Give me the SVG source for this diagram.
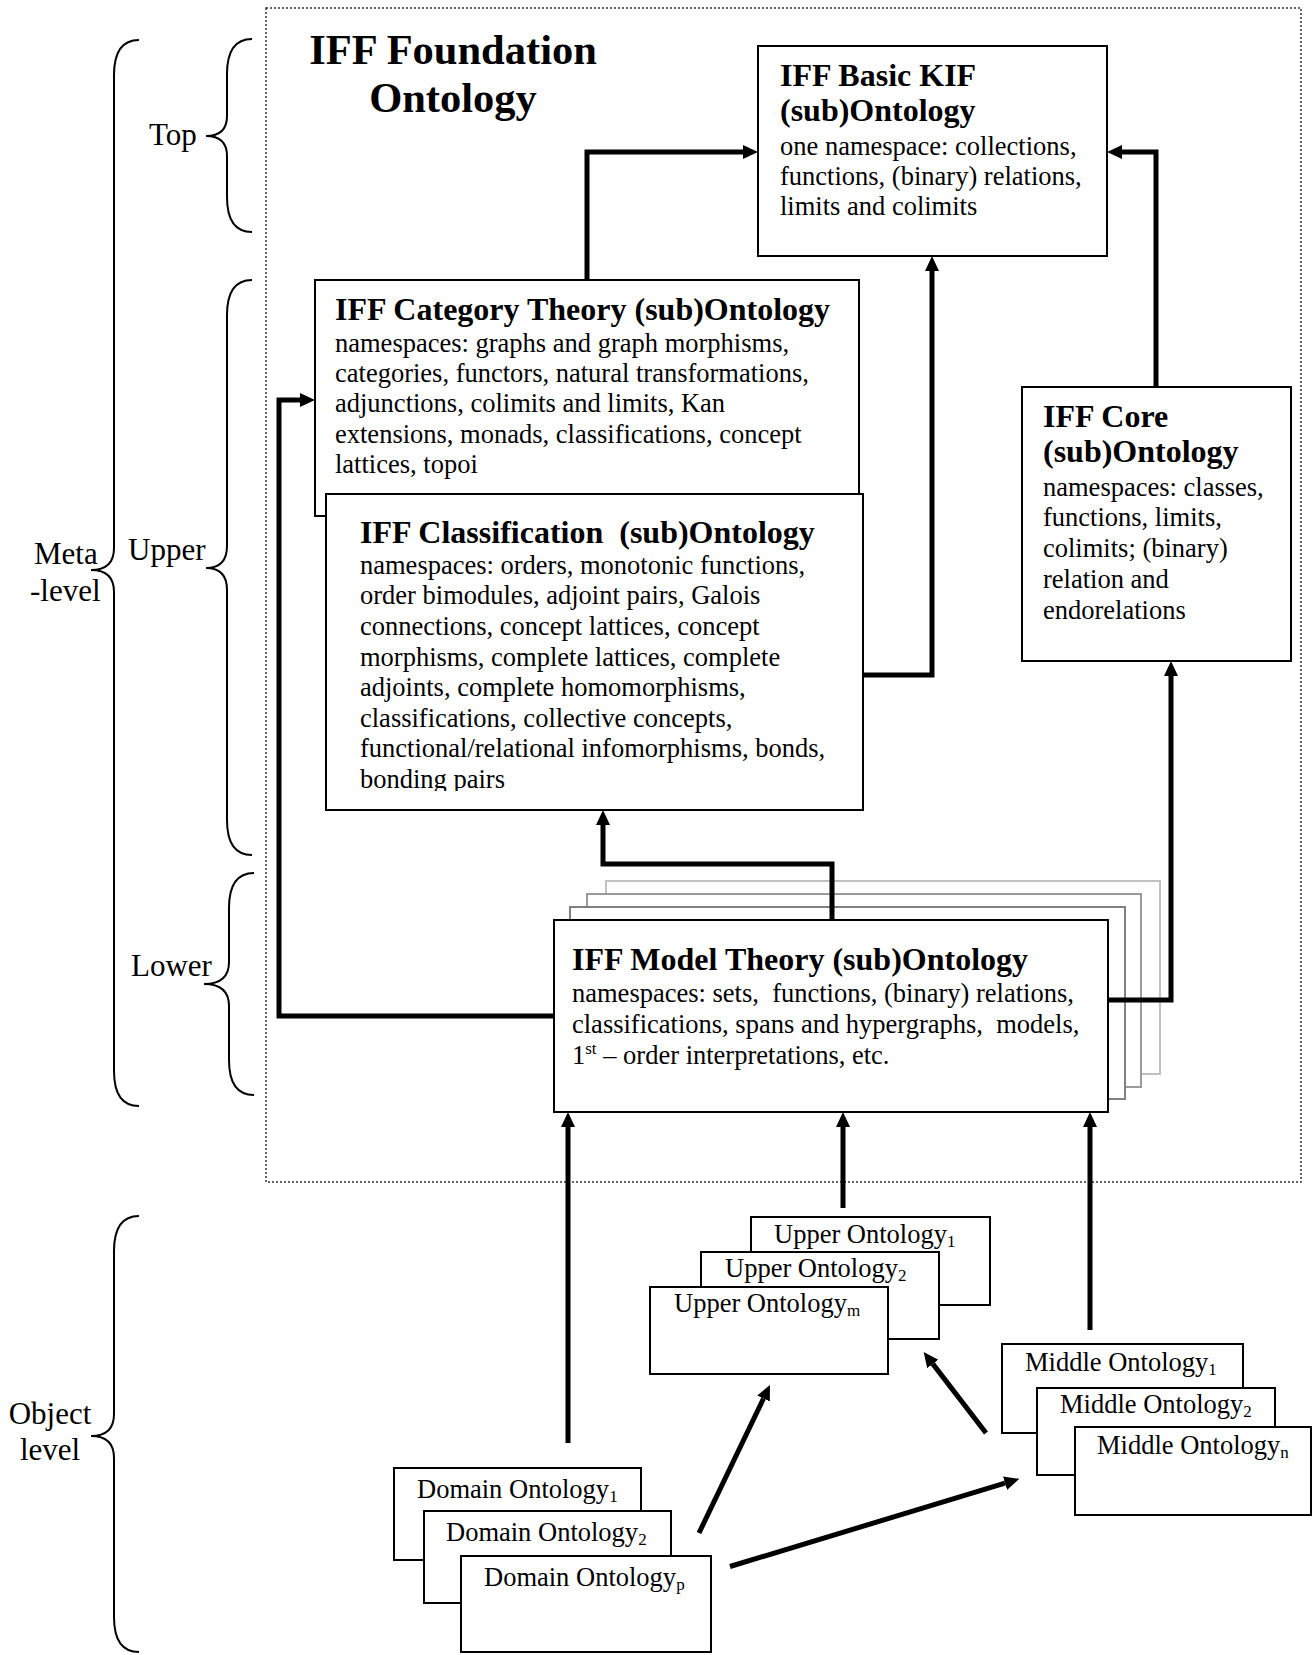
<svg xmlns="http://www.w3.org/2000/svg" width="1312" height="1655" viewBox="0 0 1312 1655">
<style>
text{font-family:"Liberation Serif","Times New Roman",serif;fill:#000}
.t{font-size:26.5px}
.h{font-size:32px;font-weight:bold}
.lbl{font-size:31px}
.box{fill:#fff;stroke:#000;stroke-width:2}
.brace{fill:none;stroke:#000;stroke-width:2}
.con{fill:none;stroke:#000;stroke-width:5}
.sub{font-size:17px}
</style>
<defs>
<marker id="ah" markerUnits="userSpaceOnUse" markerWidth="16" markerHeight="15" refX="0" refY="7" orient="auto">
<path d="M0,0 L15,7 L0,14 z" fill="#000"/>
</marker>
<clipPath id="clipCls"><rect x="326" y="494" width="537" height="297"/></clipPath>
</defs>
<rect width="1312" height="1655" fill="#fff"/>

<g id="frame">
<rect x="266" y="8" width="1035" height="1174" fill="none" stroke="#333" stroke-width="1.5" stroke-dasharray="2,2"/>
<text x="453" y="64" text-anchor="middle" style="font-size:42.5px;font-weight:bold">IFF Foundation</text>
<text x="453" y="112" text-anchor="middle" style="font-size:42.5px;font-weight:bold">Ontology</text>
</g>

<g id="braces">
<path class="brace" d="M139 40 Q114 40 114 75 V548 Q114 570 91 570 Q114 570 114 592 V1071 Q114 1106 139 1106"/>
<path class="brace" d="M252 39 Q227 39 227 74 V116 Q227 136 206 136 Q227 136 227 156 V197 Q227 232 252 232"/>
<path class="brace" d="M252 280 Q227 280 227 315 V546 Q227 568 206 568 Q227 568 227 590 V820 Q227 855 252 855"/>
<path class="brace" d="M254 873 Q229 873 229 908 V962 Q229 984 204 984 Q229 984 229 1006 V1060 Q229 1095 254 1095"/>
<path class="brace" d="M139 1216 Q114 1216 114 1251 V1414 Q114 1436 91 1436 Q114 1436 114 1458 V1617 Q114 1652 139 1652"/>
<text class="lbl" x="149" y="145">Top</text>
<text class="lbl" x="128" y="560">Upper</text>
<text class="lbl" x="131" y="976">Lower</text>
<text class="lbl" x="34" y="564">Meta</text>
<text class="lbl" x="30" y="601">-level</text>
<text class="lbl" x="50" y="1424" text-anchor="middle">Object</text>
<text class="lbl" x="50" y="1460" text-anchor="middle">level</text>
</g>

<g id="kif">
<rect class="box" x="758" y="46" width="349" height="210"/>
<text class="h" x="780" y="86">IFF Basic KIF</text>
<text class="h" x="780" y="121">(sub)Ontology</text>
<text class="t" x="780" y="155">one namespace: collections,</text>
<text class="t" x="780" y="185">functions, (binary) relations,</text>
<text class="t" x="780" y="215">limits and colimits</text>
</g>

<g id="category">
<rect class="box" x="315" y="280" width="544" height="236"/>
<text class="h" x="335" y="320">IFF Category Theory (sub)Ontology</text>
<text class="t" x="335" y="352">namespaces: graphs and graph morphisms,</text>
<text class="t" x="335" y="382">categories, functors, natural transformations,</text>
<text class="t" x="335" y="412">adjunctions, colimits and limits, Kan</text>
<text class="t" x="335" y="443">extensions, monads, classifications, concept</text>
<text class="t" x="335" y="473">lattices, topoi</text>
</g>

<g id="classification">
<rect class="box" x="326" y="494" width="537" height="316"/>
<g clip-path="url(#clipCls)">
<text class="h" x="360" y="543" style="white-space:pre">IFF Classification  (sub)Ontology</text>
<text class="t" x="360" y="574">namespaces: orders, monotonic functions,</text>
<text class="t" x="360" y="604">order bimodules, adjoint pairs, Galois</text>
<text class="t" x="360" y="635">connections, concept lattices, concept</text>
<text class="t" x="360" y="666">morphisms, complete lattices, complete</text>
<text class="t" x="360" y="696">adjoints, complete homomorphisms,</text>
<text class="t" x="360" y="727">classifications, collective concepts,</text>
<text class="t" x="360" y="757">functional/relational infomorphisms, bonds,</text>
<text class="t" x="360" y="788">bonding pairs</text>
</g>
</g>

<g id="core">
<rect class="box" x="1022" y="387" width="269" height="274"/>
<text class="h" x="1043" y="427">IFF Core</text>
<text class="h" x="1043" y="462">(sub)Ontology</text>
<text class="t" x="1043" y="496">namespaces: classes,</text>
<text class="t" x="1043" y="526">functions, limits,</text>
<text class="t" x="1043" y="557">colimits; (binary)</text>
<text class="t" x="1043" y="588">relation and</text>
<text class="t" x="1043" y="619">endorelations</text>
</g>

<g id="model">
<rect x="606" y="881" width="554" height="193" fill="#fff" stroke="#c0c0c0" stroke-width="2"/>
<rect x="587" y="894" width="554" height="193" fill="#fff" stroke="#9a9a9a" stroke-width="2"/>
<rect x="570" y="907" width="555" height="192" fill="#fff" stroke="#808080" stroke-width="2"/>
<rect class="box" x="554" y="920" width="554" height="192"/>
<text class="h" x="572" y="970">IFF Model Theory (sub)Ontology</text>
<text class="t" x="572" y="1002" style="white-space:pre">namespaces: sets,  functions, (binary) relations,</text>
<text class="t" x="572" y="1033" style="white-space:pre">classifications, spans and hypergraphs,  models,</text>
<text class="t" x="572" y="1064">1<tspan class="sub" dy="-10">st</tspan><tspan dy="10"> – order interpretations, etc.</tspan></text>
</g>

<g id="upper">
<rect class="box" x="751" y="1217" width="239" height="88"/>
<text class="t" x="774" y="1243">Upper Ontology<tspan class="sub" dy="4">1</tspan></text>
<rect class="box" x="701" y="1252" width="238" height="87"/>
<text class="t" x="725" y="1277">Upper Ontology<tspan class="sub" dy="4">2</tspan></text>
<rect class="box" x="650" y="1287" width="238" height="87"/>
<text class="t" x="674" y="1312">Upper Ontology<tspan class="sub" dy="4">m</tspan></text>
</g>

<g id="middle">
<rect class="box" x="1002" y="1344" width="241" height="89"/>
<text class="t" x="1025" y="1371">Middle Ontology<tspan class="sub" dy="4">1</tspan></text>
<rect class="box" x="1037" y="1388" width="238" height="87"/>
<text class="t" x="1060" y="1413">Middle Ontology<tspan class="sub" dy="4">2</tspan></text>
<rect class="box" x="1075" y="1427" width="236" height="88"/>
<text class="t" x="1097" y="1454">Middle Ontology<tspan class="sub" dy="4">n</tspan></text>
</g>

<g id="domain">
<rect class="box" x="394" y="1468" width="247" height="92"/>
<text class="t" x="417" y="1498">Domain Ontology<tspan class="sub" dy="4">1</tspan></text>
<rect class="box" x="424" y="1511" width="247" height="92"/>
<text class="t" x="446" y="1541">Domain Ontology<tspan class="sub" dy="4">2</tspan></text>
<rect class="box" x="461" y="1556" width="250" height="96"/>
<text class="t" x="484" y="1586">Domain Ontology<tspan class="sub" dy="4">p</tspan></text>
</g>

<g id="connectors">
<path class="con" marker-end="url(#ah)" d="M587 280 V152 H743"/>
<path class="con" marker-end="url(#ah)" d="M1156 387 V152 H1122"/>
<path class="con" marker-end="url(#ah)" d="M863 675 H932 V271"/>
<path class="con" marker-end="url(#ah)" d="M832 920 V864 H603 V825"/>
<path class="con" marker-end="url(#ah)" d="M554 1016 H279 V400 H300"/>
<path class="con" marker-end="url(#ah)" d="M1108 1000 H1171 V676"/>
<path class="con" marker-end="url(#ah)" d="M568 1443 V1127"/>
<path class="con" marker-end="url(#ah)" d="M843 1208 V1127"/>
<path class="con" marker-end="url(#ah)" d="M1090 1330 V1127"/>
<path class="con" marker-end="url(#ah)" d="M699 1533 L763.5 1398.5"/>
<path class="con" marker-end="url(#ah)" d="M986 1433 L932.8 1363.9"/>
<path class="con" marker-end="url(#ah)" d="M730 1566.5 L1005 1483.2"/>
</g>
</svg>
